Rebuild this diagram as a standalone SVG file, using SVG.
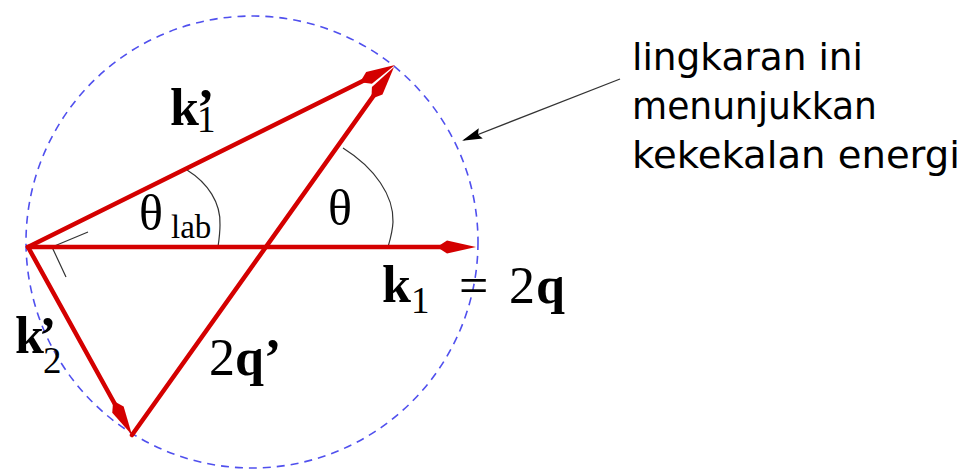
<svg xmlns="http://www.w3.org/2000/svg" width="964" height="471" viewBox="0 0 964 471">
  <style>
    .vec { fill: none; stroke: #d40000; stroke-width: 4.5; stroke-linecap: round; }
    .thin { fill: none; stroke: #333; stroke-width: 1.2; }
    .circ { fill: none; stroke: #5050ee; stroke-width: 1.6; stroke-dasharray: 8 6; }
    .m { font-family: "Liberation Serif", "Times New Roman", serif; fill: #000; }
    .b { font-weight: bold; font-size: 52px; }
    .r { font-size: 52px; }
    .sub { font-size: 37px; font-weight: normal; }
    .note { font-family: "DejaVu Sans", "Liberation Sans", sans-serif; font-size: 38px; fill: #000; }
  </style>
  <defs>
    <marker id="redArrow" viewBox="-42 -8 44 16" refX="-14" refY="0" markerWidth="44" markerHeight="16" markerUnits="userSpaceOnUse" orient="auto">
      <path d="M0,0 L-29,-6.5 L-39,0 L-29,6.5 Z" fill="#d40000"/>
    </marker>
    <marker id="blackArrow" viewBox="-22 -7 24 14" refX="-2" refY="0" markerWidth="24" markerHeight="14" markerUnits="userSpaceOnUse" orient="auto">
      <path d="M0,0 L-20,-5.5 L-17,0 L-20,5.5 Z" fill="#000"/>
    </marker>
  </defs>
  <rect width="964" height="471" fill="#fff"/>

  <g id="circle">
    <circle class="circ" cx="252" cy="242" r="226"/>
  </g>

  <g id="angles">
    <path class="thin" d="M187,170 C208,183 221,203 220,225 C220,233 219,240 218,247"/>
    <path class="thin" d="M343,148 C375,168 394,196 393,222 C392.5,232 390,240 388,247"/>
    <polyline class="thin" points="88,232 52,247 66,277"/>
  </g>

  <g id="connectors">
    <line id="vec-k1" class="vec" x1="28" y1="247" x2="462" y2="247" marker-end="url(#redArrow)"/>
    <line id="vec-k1p" class="vec" x1="28" y1="247" x2="382.46" y2="71.22" marker-end="url(#redArrow)"/>
    <line id="vec-k2p" class="vec" x1="28" y1="247" x2="125.22" y2="422.75" marker-end="url(#redArrow)"/>
    <line id="vec-2qp" class="vec" x1="132" y1="435" x2="385.92" y2="78.43" marker-end="url(#redArrow)"/>
    <line id="callout" x1="620" y1="79" x2="464" y2="140" stroke="#333" stroke-width="1.3" marker-end="url(#blackArrow)"/>
  </g>

  <g id="label-k1p">
    <text class="m b" x="170" y="125">k<tspan x="197" y="125">’</tspan><tspan class="sub" x="197" y="132">1</tspan></text>
  </g>

  <g id="label-thetalab">
    <text class="m" x="139" y="230" font-size="50">θ<tspan x="171" y="238" font-size="33">lab</tspan></text>
  </g>

  <g id="label-theta">
    <text class="m" x="328" y="225" font-size="50">θ</text>
  </g>

  <g id="label-k1">
    <text class="m b" x="382" y="302">k<tspan class="sub" x="411" y="313">1</tspan></text>
    <text class="m r" x="459" y="303">=<tspan x="509">2</tspan><tspan font-weight="bold" x="536">q</tspan></text>
  </g>

  <g id="label-k2p">
    <text class="m b" x="15" y="353">k<tspan x="39" y="353">’</tspan><tspan class="sub" x="43" y="373">2</tspan></text>
  </g>

  <g id="label-2qp">
    <text class="m r" x="209" y="375">2<tspan font-weight="bold" x="235">q</tspan><tspan font-weight="bold" x="264">’</tspan></text>
  </g>

  <g id="note">
    <text class="note" x="632" y="70" textLength="231" lengthAdjust="spacingAndGlyphs">lingkaran ini</text>
    <text class="note" x="632" y="119" textLength="245" lengthAdjust="spacingAndGlyphs">menunjukkan</text>
    <text class="note" x="632" y="168" textLength="328" lengthAdjust="spacingAndGlyphs">kekekalan energi</text>
  </g>
</svg>
